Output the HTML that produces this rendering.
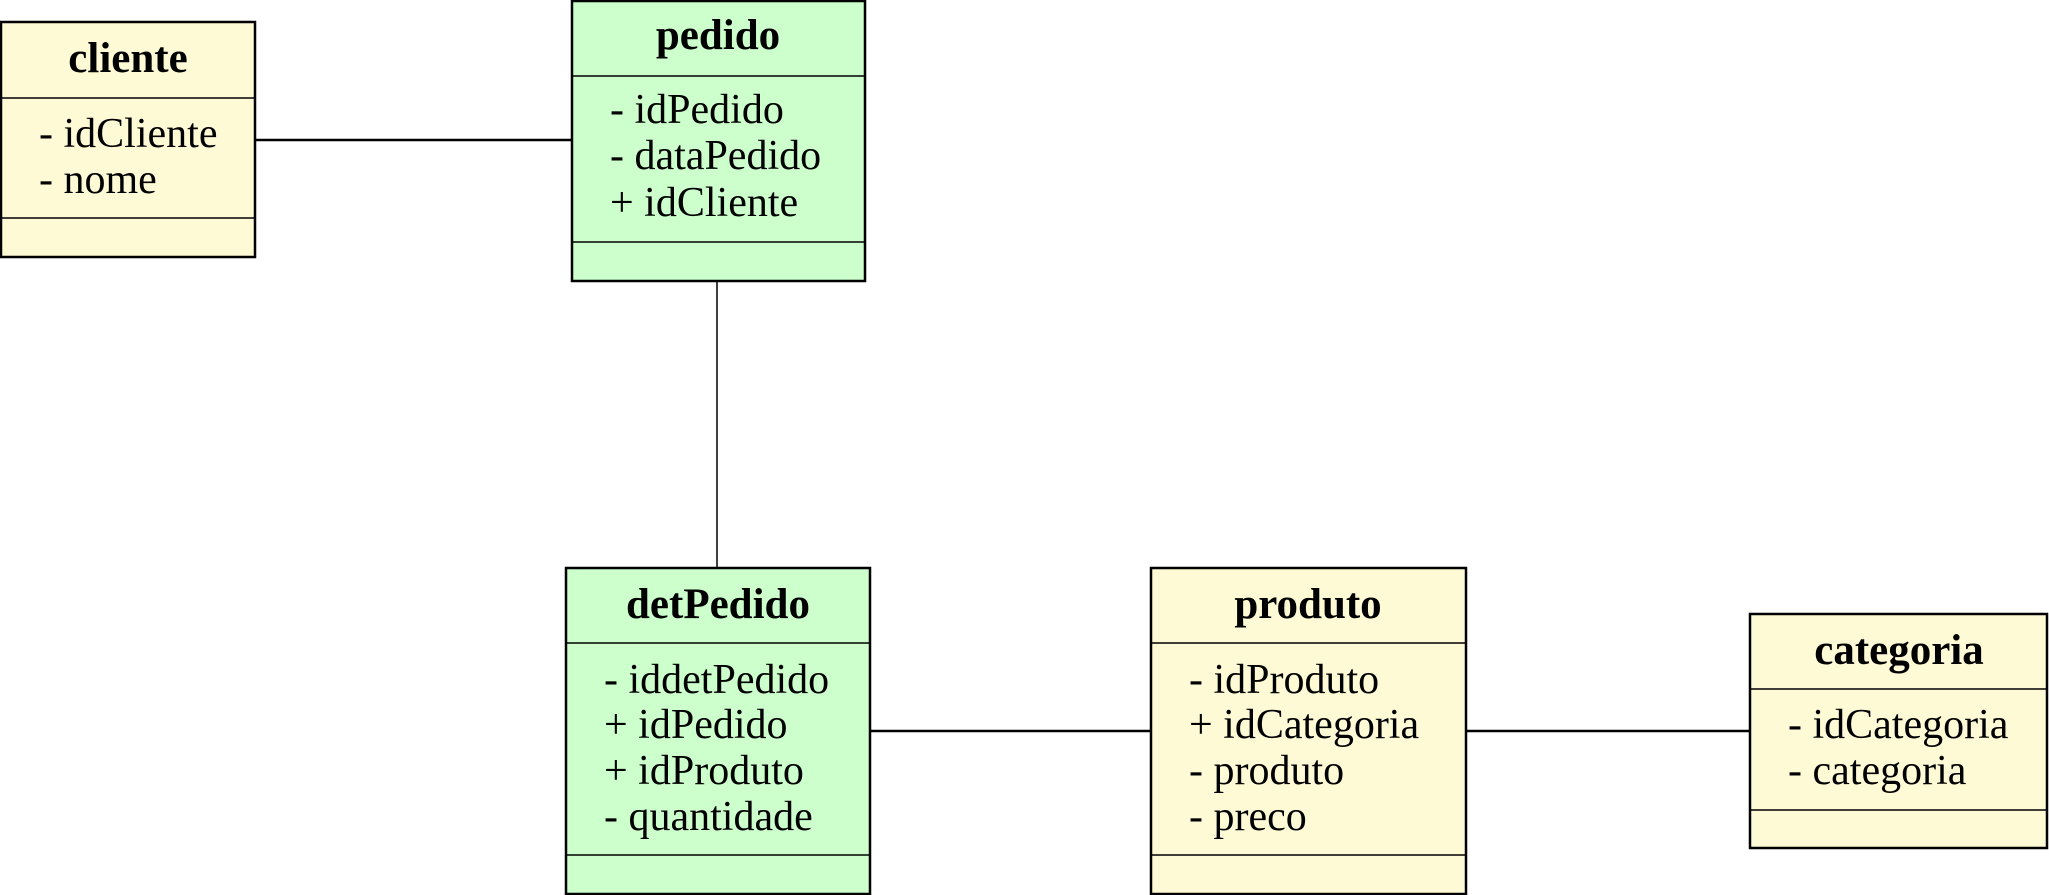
<!DOCTYPE html>
<html><head><meta charset="utf-8"><style>
html,body{margin:0;padding:0;background:#fff;}
svg{display:block}
text{font-family:"Liberation Serif",serif;font-size:42px;fill:#000}
.t{font-weight:bold;text-anchor:middle;font-size:43px}
</style></head><body>
<svg width="2049" height="895" viewBox="0 0 2049 895">
<g stroke="#000" stroke-width="2.5">
<line x1="255" y1="140" x2="571" y2="140"/>
<line x1="717" y1="281" x2="717" y2="568" stroke-width="1.5"/>
<line x1="870" y1="731" x2="1151" y2="731"/>
<line x1="1466" y1="731" x2="1750" y2="731"/>

<rect x="1" y="22" width="254" height="235" fill="#fffad6"/>
<line x1="1" y1="98" x2="255" y2="98" stroke-width="1.5"/>
<line x1="1" y1="218" x2="255" y2="218" stroke-width="1.5"/>

<rect x="572" y="1" width="293" height="280" fill="#ccffcc"/>
<line x1="572" y1="76" x2="865" y2="76" stroke-width="1.5"/>
<line x1="572" y1="242" x2="865" y2="242" stroke-width="1.5"/>

<rect x="566" y="568" width="304" height="326" fill="#ccffcc"/>
<line x1="566" y1="643" x2="870" y2="643" stroke-width="1.5"/>
<line x1="566" y1="855" x2="870" y2="855" stroke-width="1.5"/>

<rect x="1151" y="568" width="315" height="326" fill="#fffad6"/>
<line x1="1151" y1="643" x2="1466" y2="643" stroke-width="1.5"/>
<line x1="1151" y1="855" x2="1466" y2="855" stroke-width="1.5"/>

<rect x="1750" y="614" width="297" height="234" fill="#fffad6"/>
<line x1="1750" y1="689" x2="2047" y2="689" stroke-width="1.5"/>
<line x1="1750" y1="810" x2="2047" y2="810" stroke-width="1.5"/>
</g>

<text class="t" x="128" y="72">cliente</text>
<text x="39" y="147">- idCliente</text>
<text x="39" y="193">- nome</text>

<text class="t" x="718" y="49">pedido</text>
<text x="610" y="123">- idPedido</text>
<text x="610" y="169">- dataPedido</text>
<text x="610" y="216">+ idCliente</text>

<text class="t" x="718" y="618">detPedido</text>
<text x="604" y="693">- iddetPedido</text>
<text x="604" y="738">+ idPedido</text>
<text x="604" y="784">+ idProduto</text>
<text x="604" y="830">- quantidade</text>

<text class="t" x="1308" y="618">produto</text>
<text x="1189" y="693">- idProduto</text>
<text x="1189" y="738">+ idCategoria</text>
<text x="1189" y="784">- produto</text>
<text x="1189" y="830">- preco</text>

<text class="t" x="1899" y="664">categoria</text>
<text x="1788" y="738">- idCategoria</text>
<text x="1788" y="784">- categoria</text>
</svg>
</body></html>
